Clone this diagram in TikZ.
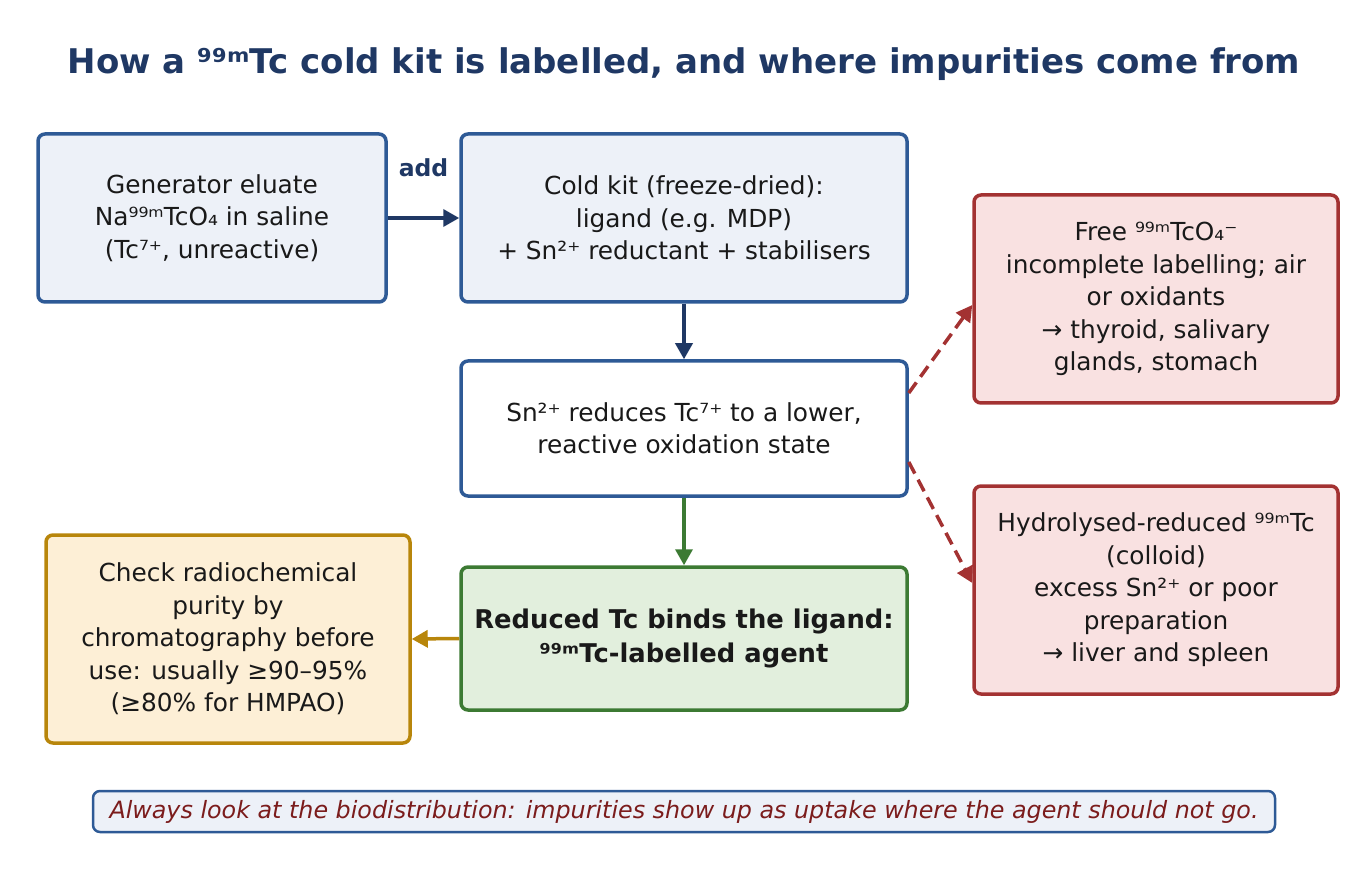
\documentclass[tikz,border=0pt]{standalone}
\usepackage{fontspec}
\setmainfont{DejaVu Sans}
\usetikzlibrary{arrows.meta,calc}
\definecolor{navy}{HTML}{1F3864}
\definecolor{bB}{HTML}{2E5A96}\definecolor{bF}{HTML}{EDF1F8}
\definecolor{rB}{HTML}{A33232}\definecolor{rF}{HTML}{F9E1E1}
\definecolor{gB}{HTML}{3C7A33}\definecolor{gF}{HTML}{E2EFDD}
\definecolor{oB}{HTML}{B8860B}\definecolor{oF}{HTML}{FDEFD6}
\definecolor{ft}{HTML}{7B1C1C}
\begin{document}
\begin{tikzpicture}[x=1pt,y=1pt,
 box/.style={draw,line width=3.5pt,rounded corners=7pt,align=center,inner sep=0pt,font=\fontsize{24.8}{32.5}\selectfont,text=black!90},
 arr/.style={line width=3.5pt,-{Triangle[length=16pt,width=17pt]}}]
\useasboundingbox (0,0) rectangle (1368,-890);
\node[font=\fontsize{34}{38}\selectfont\bfseries,text=navy] (title) at (684,-64) {How a ⁹⁹ᵐTc cold kit is labelled, and where impurities come from};
\node[box,draw=bB,fill=bF,minimum width=348,minimum height=168] (gen) at (212,-218) {Generator eluate\\Na⁹⁹ᵐTcO₄ in saline\\(Tc⁷⁺, unreactive)};
\node[box,draw=bB,fill=bF,minimum width=446,minimum height=168] (kit) at (684,-218) {Cold kit (freeze-dried):\\ligand (e.g. MDP)\\+ Sn²⁺ reductant + stabilisers};
\node[box,draw=bB,fill=white,minimum width=446,minimum height=135] (sn) at (684,-428.5) {Sn²⁺ reduces Tc⁷⁺ to a lower,\\reactive oxidation state};
\node[box,draw=gB,fill=gF,minimum width=446,minimum height=143,font=\fontsize{25.8}{34}\selectfont\bfseries] (red) at (684,-638.5) {Reduced Tc binds the ligand:\\⁹⁹ᵐTc-labelled agent};
\node[box,draw=oB,fill=oF,minimum width=364,minimum height=208] (chk) at (228,-639) {Check radiochemical\\purity by\\chromatography before\\use: usually ≥90–95\%\\(≥80\% for HMPAO)};
\node[box,draw=rB,fill=rF,minimum width=364,minimum height=208] (free) at (1156,-299) {Free ⁹⁹ᵐTcO₄⁻\\incomplete labelling; air\\or oxidants\\→ thyroid, salivary\\glands, stomach};
\node[box,draw=rB,fill=rF,minimum width=364,minimum height=208] (hyd) at (1156,-590) {Hydrolysed-reduced ⁹⁹ᵐTc\\(colloid)\\excess Sn²⁺ or poor\\preparation\\→ liver and spleen};
\node[draw=bB,fill=bF,line width=2.5pt,rounded corners=7pt,minimum width=1182,minimum height=41,inner sep=0pt,text=ft,font=\fontsize{23.8}{26}\selectfont\itshape] (foot) at (684,-811.5) {Always look at the biodistribution: impurities show up as uptake where the agent should not go.};
\draw[arr,navy] (gen.east) -- node[above=36pt,font=\fontsize{23.5}{26}\selectfont\bfseries]{add} (kit.west);
\draw[arr,navy] (kit.south) -- (sn.north);
\draw[arr,gB] (sn.south) -- (red.north);
\draw[arr,oB] (red.west) -- (chk.east);
\draw[arr,rB,dashed,dash pattern=on 13pt off 7pt] ([yshift=35.5]sn.east) -- ([yshift=-6]free.west);
\draw[arr,rB,dashed,dash pattern=on 13pt off 7pt] ([yshift=-33.5]sn.east) -- ([yshift=7]hyd.west);
\end{tikzpicture}
\end{document}
